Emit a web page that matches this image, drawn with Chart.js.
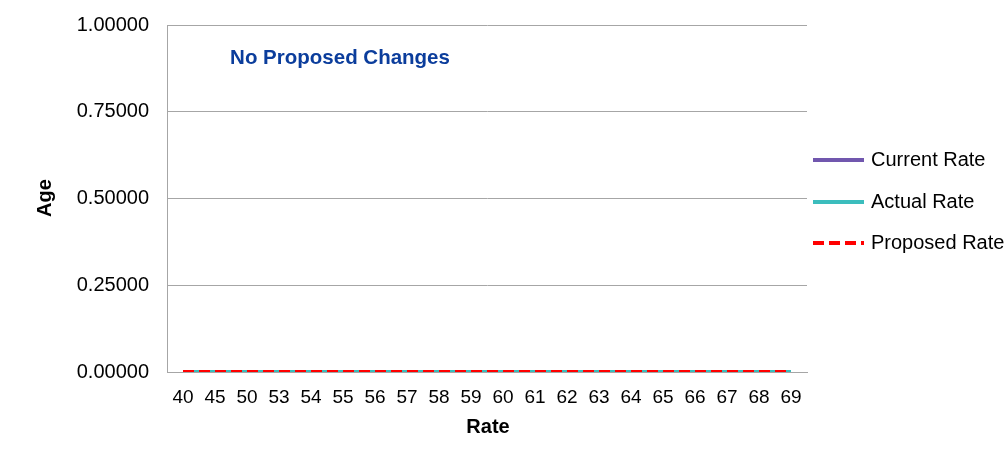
<!DOCTYPE html>
<html>
<head>
<meta charset="utf-8">
<script src="https://cdn.jsdelivr.net/npm/chart.js@4.4.0/dist/chart.umd.min.js"></script>
<style>
html,body{margin:0;padding:0;background:#fff;}
#wrap{width:1006px;height:473px;}
</style>
</head>
<body>
<div id="wrap"><canvas id="c" width="1006" height="473"></canvas></div>
<script>
const categories = ["40","45","50","53","54","55","56","57","58","59","60","61","62","63","64","65","66","67","68","69"];
const currentRate  = [0,0,0,0,0,0,0,0,0,0,0,0,0,0,0,0,0,0,0,0];
const actualRate   = [0,0,0,0,0,0,0,0,0,0,0,0,0,0,0,0,0,0,0,0];
const proposedRate = [0,0,0,0,0,0,0,0,0,0,0,0,0,0,0,0,0,0,0,0];
const seriesNames = ["Current Rate","Actual Rate","Proposed Rate"];
const yTicks = [0, 0.25, 0.5, 0.75, 1.0];
const annotationText = "No Proposed Changes";
const xTitle = "Rate";
const yTitle = "Age";

const FONT = "'Liberation Sans', Arial, sans-serif";
const GRID = "#a6a6a6";

const overlay = {
  id: 'overlay',
  afterDraw(chart) {
    const ctx = chart.ctx;
    ctx.save();
    // annotation
    ctx.fillStyle = '#0b3d9c';
    ctx.font = "bold 20.5px " + FONT;
    ctx.textAlign = 'center';
    ctx.textBaseline = 'middle';
    ctx.fillText(annotationText, 340, 58);
    // axis titles
    ctx.fillStyle = '#000';
    ctx.font = "bold 20px " + FONT;
    ctx.fillText(xTitle, 488, 427);
    ctx.save();
    ctx.translate(45, 198);
    ctx.rotate(-Math.PI / 2);
    ctx.fillText(yTitle, 0, 0);
    ctx.restore();
    // legend
    const rows = [160, 202, 243];
    chart.data.datasets.forEach((ds, i) => {
      const y = rows[i];
      ctx.beginPath();
      ctx.strokeStyle = ds.borderColor;
      ctx.lineWidth = 4;
      ctx.setLineDash(ds.borderDash || []);
      ctx.lineCap = 'butt';
      ctx.moveTo(813, y);
      ctx.lineTo(864, y);
      ctx.stroke();
      ctx.setLineDash([]);
      ctx.fillStyle = '#000';
      ctx.font = "20px " + FONT;
      ctx.textAlign = 'left';
      ctx.textBaseline = 'middle';
      ctx.fillText(ds.label, 871, y);
    });
    ctx.restore();
  }
};

new Chart(document.getElementById('c'), {
  type: 'line',
  data: {
    labels: categories,
    datasets: [
      { label: seriesNames[0], data: currentRate, borderColor: '#7157ae', borderWidth: 4, pointRadius: 0, order: 2 },
      { label: seriesNames[1], data: actualRate, borderColor: '#3bbdbd', borderWidth: 4, pointRadius: 0, order: 1 },
      { label: seriesNames[2], data: proposedRate, borderColor: '#ff0000', borderWidth: 4, borderDash: [11, 5], pointRadius: 0, order: 0 }
    ]
  },
  options: {
    responsive: false,
    animation: false,
    events: [],
    layout: { padding: { left: 0, right: 199, top: 25, bottom: 0 } },
    plugins: { legend: { display: false }, tooltip: { enabled: false }, title: { display: false } },
    scales: {
      x: {
        offset: true,
        grid: { display: false, drawTicks: false },
        border: { display: true, color: GRID, width: 1 },
        ticks: { color: '#000', font: { family: FONT, size: 19 }, padding: 14, maxRotation: 0, autoSkip: false },
        afterFit(s) { s.height = 101; s.paddingLeft = 0; s.paddingRight = 0; }
      },
      y: {
        min: 0, max: 1,
        afterBuildTicks(s) { s.ticks = yTicks.map(v => ({ value: v })); },
        grid: { color: GRID, drawTicks: false, lineWidth: 1 },
        border: { display: true, color: GRID, width: 1 },
        ticks: { color: '#000', font: { family: FONT, size: 20 }, padding: 18, callback: v => Number(v).toFixed(5) },
        afterFit(s) { s.width = 167; s.paddingTop = 0; s.paddingBottom = 0; }
      }
    }
  },
  plugins: [overlay]
});
</script>
</body>
</html>
